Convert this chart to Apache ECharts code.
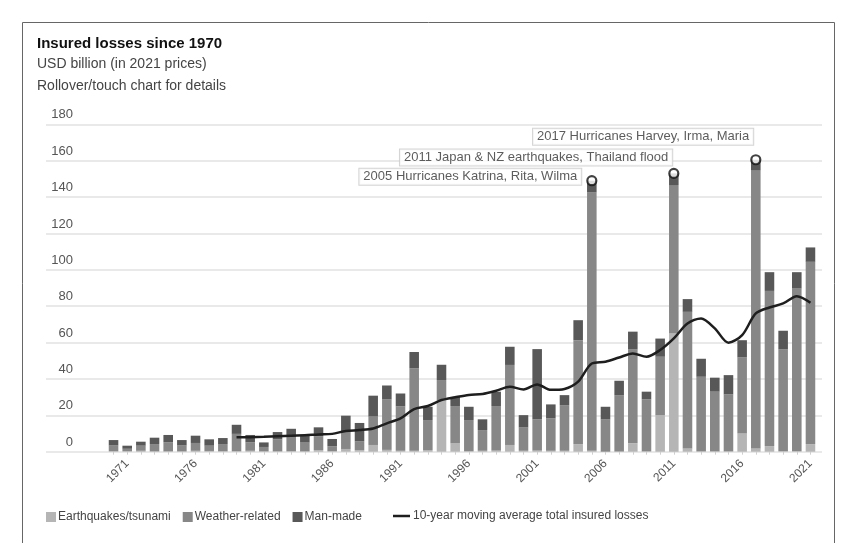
<!DOCTYPE html>
<html>
<head>
<meta charset="utf-8">
<script src="https://cdn.jsdelivr.net/npm/echarts@6/dist/echarts.min.js"></script>
<style>
  html, body { margin: 0; padding: 0; background: #fff; }
  #chart { width: 845px; height: 543px; }
</style>
</head>
<body>
<div id="chart"></div>
<script>
// Insured losses since 1970, USD billion in 2021 prices
const years = [];
for (let y = 1970; y <= 2021; y++) years.push(String(y));

const earthquakes = [
  0.3, 0.3, 0.5, 0.2, 0.2, 0.2, 0.5, 0.4, 0.3, 0.3,
  0.5, 0.2, 0.2, 0.3, 0.2, 0.8, 0.3, 1.5, 0.8, 3.7,
  1.0, 0.5, 0.5, 0.9, 28.4, 4.6, 0.3, 0.5, 0.6, 3.7,
  0.5, 0.6, 0.5, 0.5, 4.2, 0.5, 0.0, 0.1, 4.6, 0.2,
  20.1, 65.0, 1.8, 0.2, 0.2, 0.2, 10.0, 1.8, 3.1, 0.2,
  0.2, 4.2
];
const weather = [
  3.1, 1.3, 2.8, 4.0, 5.0, 3.2, 4.3, 2.9, 3.9, 9.5,
  4.7, 2.4, 6.6, 7.8, 4.8, 7.6, 2.7, 9.5, 5.0, 15.6,
  27.7, 24.5, 45.3, 16.5, 11.0, 20.5, 17.1, 11.4, 24.5, 44.0,
  12.8, 17.2, 17.8, 25.1, 57.1, 142.0, 17.7, 31.0, 51.7, 28.6,
  32.1, 81.6, 75.1, 41.0, 32.8, 31.3, 41.8, 152.7, 85.3, 56.0,
  89.5, 100.2
];
const manMade = [
  3.0, 1.7, 2.2, 3.5, 4.0, 3.0, 4.0, 3.5, 3.3, 5.0,
  4.0, 2.5, 4.0, 4.5, 4.0, 5.0, 4.0, 8.8, 10.0, 11.5,
  7.7, 7.0, 9.0, 7.3, 8.4, 5.1, 7.3, 5.9, 7.9, 10.0,
  6.8, 38.6, 7.7, 5.5, 11.0, 6.5, 7.0, 7.9, 9.7, 4.2,
  10.0, 6.4, 7.0, 9.9, 7.7, 10.6, 9.5, 6.0, 10.3, 10.3,
  9.0, 7.9
];
// 10-year moving average of total insured losses (from 1979)
const movingAvg = [
  null, null, null, null, null, null, null, null, null, 7.9,
  8.0, 8.2, 8.5, 8.8, 9.0, 9.5, 9.8, 11.4, 11.9, 12.8,
  15.6, 18.3, 23.4, 25.1, 28.4, 29.9, 31.2, 31.7, 33.5, 35.7,
  34.2, 37.0, 34.0, 34.5, 38.5, 48.5, 49.5, 51.8, 54.0, 52.2,
  55.9, 62.3, 70.5, 73.3, 67.8, 59.9, 64.1, 76.0, 79.3, 81.5,
  85.5, 81.9
];

// Major-event call-outs
const eventYears = ['2005', '2011', '2017'];
const eventLabels = [
  '2005 Hurricanes Katrina, Rita, Wilma',
  '2011 Japan & NZ earthquakes, Thailand flood',
  '2017 Hurricanes Harvey, Irma, Maria'
];
const eventLabelOffsets = [[-5, -4], [4, -16], [3, -23]];

const yTicks = { min: 0, max: 180, interval: 20 };

const total = i => earthquakes[i] + weather[i] + manMade[i];
const eventPoints = eventYears.map((y, k) => {
  const i = years.indexOf(y);
  return {
    value: [y, +total(i).toFixed(1)],
    label: { formatter: eventLabels[k], offset: eventLabelOffsets[k] }
  };
});

const FONT = '"Liberation Sans", Arial, sans-serif';
const COLORS = { quake: '#b5b5b5', weather: '#878787', man: '#585858', line: '#1e1e1e' };

const chart = echarts.init(document.getElementById('chart'), null, { renderer: 'canvas' });

const TOP = 124.3, BOTTOM = 91.3;

chart.setOption({
  backgroundColor: '#fff',
  animation: false,
  textStyle: { fontFamily: FONT },
  title: [
    { text: 'Insured losses since 1970', left: 37, top: 36, padding: 0,
      textStyle: { fontFamily: FONT, fontSize: 15, fontWeight: 'bold', color: '#111' } },
    { text: 'USD billion (in 2021 prices)', left: 37, top: 57, padding: 0,
      textStyle: { fontFamily: FONT, fontSize: 14, fontWeight: 'normal', color: '#444' } },
    { text: 'Rollover/touch chart for details', left: 37, top: 79, padding: 0,
      textStyle: { fontFamily: FONT, fontSize: 14, fontWeight: 'normal', color: '#444' } }
  ],
  graphic: [
    { type: 'rect', silent: true, z: -1,
      shape: { x: 22.5, y: 22.5, width: 812, height: 600 },
      style: { fill: 'none', stroke: '#666', lineWidth: 1 } }
  ],
  legend: [
    { left: 46, top: 511, padding: 0, itemWidth: 10, itemHeight: 10, itemGap: 12,
      icon: 'rect', selectedMode: false,
      textStyle: { fontFamily: FONT, fontSize: 12, color: '#444', padding: [0, 0, 0, -3] },
      data: ['Earthquakes/tsunami', 'Weather-related', 'Man-made'] },
    { left: 393, top: 510, padding: 0, itemWidth: 17, itemHeight: 2.5, icon: 'rect',
      selectedMode: false,
      textStyle: { fontFamily: FONT, fontSize: 12, color: '#444', padding: [0, 0, 0, -2] },
      data: ['10-year moving average total insured losses'] }
  ],
  grid: [
    // wide grid carrying the y gridlines and labels
    { left: 46, right: 23, top: TOP, bottom: BOTTOM },
    // plotting grid for the yearly bars
    { left: 106.7, right: 27.7, top: TOP, bottom: BOTTOM }
  ],
  xAxis: [
    { gridIndex: 0, type: 'value', min: 0, max: 1, show: false },
    { gridIndex: 1, type: 'category', data: years, boundaryGap: true,
      axisLine: { show: false },
      axisTick: { show: true, interval: 0, alignWithLabel: true, length: 3,
        lineStyle: { color: '#cfcfcf', width: 1 } },
      axisLabel: {
        interval: (idx, val) => Number(val) % 5 === 1,
        rotate: 45, margin: 10, fontSize: 12, color: '#555', fontFamily: FONT
      } }
  ],
  yAxis: [
    { gridIndex: 0, type: 'value', min: yTicks.min, max: yTicks.max, interval: yTicks.interval,
      axisLine: { show: false }, axisTick: { show: false },
      splitLine: { show: true, lineStyle: { color: '#e2e2e2', width: 1.5 } },
      axisLabel: { inside: true, align: 'right', margin: 27, verticalAlign: 'bottom',
        padding: [0, 0, 3, 0], fontSize: 13, color: '#555', fontFamily: FONT } },
    { gridIndex: 1, type: 'value', min: yTicks.min, max: yTicks.max, interval: yTicks.interval,
      show: false, splitLine: { show: false } }
  ],
  series: [
    { name: 'Earthquakes/tsunami', type: 'bar', stack: 'loss', xAxisIndex: 1, yAxisIndex: 1,
      barWidth: '70%', data: earthquakes, itemStyle: { color: COLORS.quake } },
    { name: 'Weather-related', type: 'bar', stack: 'loss', xAxisIndex: 1, yAxisIndex: 1,
      data: weather, itemStyle: { color: COLORS.weather } },
    { name: 'Man-made', type: 'bar', stack: 'loss', xAxisIndex: 1, yAxisIndex: 1,
      data: manMade, itemStyle: { color: COLORS.man } },
    { name: '10-year moving average total insured losses', type: 'line', xAxisIndex: 1, yAxisIndex: 1,
      data: movingAvg, symbol: 'none', smooth: 0.3, z: 5,
      itemStyle: { color: COLORS.line },
      lineStyle: { color: COLORS.line, width: 2.5 } },
    { name: 'events', type: 'scatter', xAxisIndex: 1, yAxisIndex: 1, z: 10,
      symbol: 'circle', symbolSize: 9,
      itemStyle: { color: '#fff', borderColor: '#111', borderWidth: 2.2 },
      label: { show: true, position: 'left', distance: 0,
        backgroundColor: '#fff', borderColor: '#c9c9c9', borderWidth: 1,
        padding: [2, 4, 1, 4], fontSize: 13, color: '#333', fontFamily: FONT },
      data: eventPoints }
  ]
});
</script>
</body>
</html>
